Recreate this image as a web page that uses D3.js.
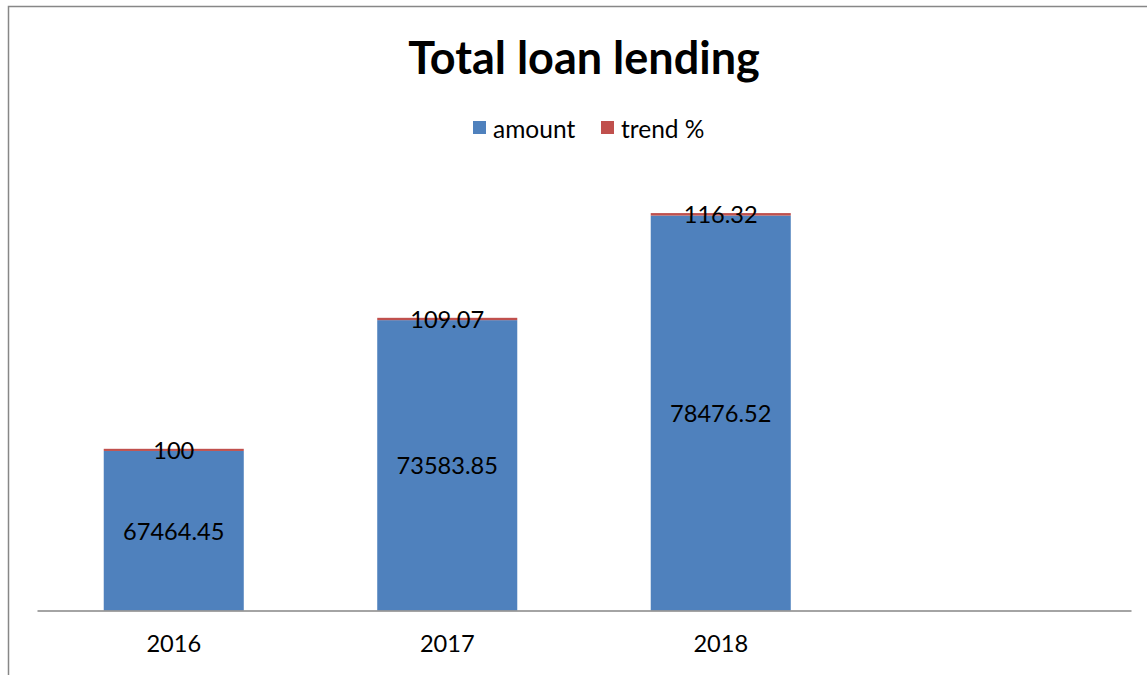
<!DOCTYPE html>
<html>
<head>
<meta charset="utf-8">
<script src="https://cdn.jsdelivr.net/npm/d3@7"></script>
<style>
  body { margin: 0; background: #fff; }
  svg { display: block; font-family: Lato, "Open Sans", sans-serif; }
</style>
</head>
<body>
<svg id="chart" width="1147" height="675"></svg>
<script>
// Category slots on the x axis (the last slot is left empty)
const categories = ["2016", "2017", "2018", ""];
const years = ["2016", "2017", "2018"];
const amount = [67464.45, 73583.85, 78476.52];
const trend = [100, 109.07, 116.32];
const seriesNames = ["amount", "trend %"];
const seriesColors = ["#4f81bd", "#c0504d"];
const yDomain = [60000, 80000];

const svg = d3.select("#chart");
const W = 1147, H = 675;

// outer chart frame
svg.append("path")
  .attr("d", `M8.5,${H} V6.5 H${W}`)
  .attr("fill", "none")
  .attr("stroke", "#878787")
  .attr("stroke-width", 1.5);

const plot = { left: 37, right: 1131, top: 183, bottom: 610.5 };

const x = d3.scaleBand()
  .domain(categories)
  .range([plot.left, plot.right])
  .paddingInner(0.488)
  .paddingOuter(0.244);

const y = d3.scaleLinear()
  .domain(yDomain)
  .range([plot.bottom, plot.top]);

const rows = years.map((yr, i) => ({ year: yr, amount: amount[i], trend: trend[i] }));
const stacked = d3.stack().keys(["amount", "trend"])(rows);

// stacked bars
stacked.forEach((layer, li) => {
  svg.append("g").selectAll("rect")
    .data(layer)
    .join("rect")
    .attr("x", d => x(d.data.year))
    .attr("width", x.bandwidth())
    .attr("y", d => y(d[1]))
    .attr("height", d => Math.max(0, y(Math.max(d[0], yDomain[0])) - y(d[1])))
    .attr("fill", seriesColors[li]);
});

// value labels centred in each visible segment
stacked.forEach((layer, li) => {
  svg.append("g").selectAll("text")
    .data(layer)
    .join("text")
    .attr("x", d => x(d.data.year) + x.bandwidth() / 2)
    .attr("y", d => (y(Math.max(d[0], yDomain[0])) + y(d[1])) / 2)
    .attr("text-anchor", "middle")
    .attr("dominant-baseline", "central")
    .attr("font-size", 23.6)
    .attr("fill", "#000")
    .text(d => String(li === 0 ? d.data.amount : d.data.trend));
});

// x axis
const xAxis = svg.append("g")
  .attr("transform", `translate(0,${plot.bottom})`)
  .call(d3.axisBottom(x).tickSize(0).tickPadding(25));
xAxis.select(".domain").attr("stroke", "#868686").attr("stroke-width", 1.5);
xAxis.selectAll("text")
  .attr("font-family", "Lato, 'Open Sans', sans-serif")
  .attr("font-size", 23.6)
  .attr("fill", "#000");

// title
svg.append("text")
  .attr("x", 584)
  .attr("y", 74)
  .attr("text-anchor", "middle")
  .attr("font-weight", "bold")
  .attr("font-size", 45)
  .attr("fill", "#000")
  .text("Total loan lending");

// legend
const legendItems = [
  { name: seriesNames[0], color: seriesColors[0], x: 473 },
  { name: seriesNames[1], color: seriesColors[1], x: 601 }
];
const lg = svg.append("g");
legendItems.forEach(it => {
  lg.append("rect")
    .attr("x", it.x).attr("y", 121)
    .attr("width", 13).attr("height", 13)
    .attr("fill", it.color);
  lg.append("text")
    .attr("x", it.x + 20).attr("y", 128)
    .attr("dominant-baseline", "central")
    .attr("font-size", 24.5)
    .attr("fill", "#000")
    .text(it.name);
});
</script>
</body>
</html>
